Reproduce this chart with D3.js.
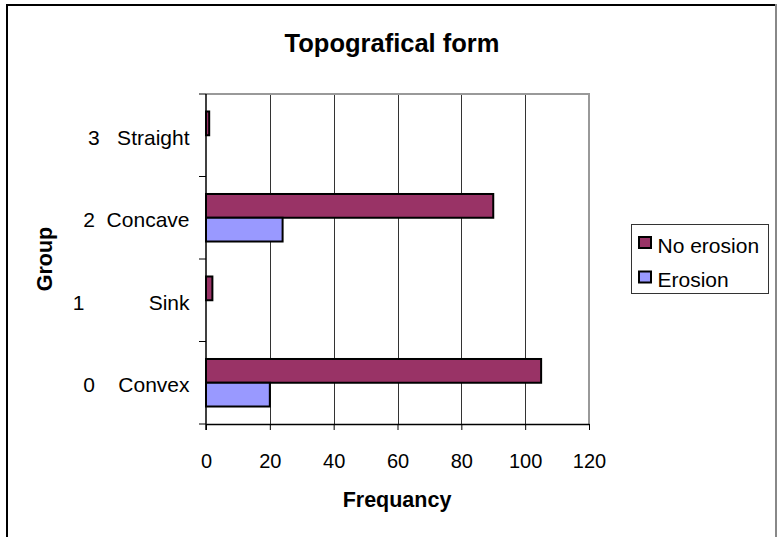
<!DOCTYPE html>
<html><head><meta charset="utf-8">
<script src="https://cdn.jsdelivr.net/npm/d3@7"></script>
<style>body{margin:0;background:#fff}svg{display:block}text{font-family:"Liberation Sans",Arial,sans-serif}</style>
</head><body>
<svg id="c" width="777" height="537"></svg>
<script>
const categories = ["0    Convex", "1           Sink", "2  Concave", "3   Straight"];
const seriesNames = ["No erosion", "Erosion"];
const noErosion = [105, 2, 90, 1];
const erosion = [20, 0, 24, 0];
const xTicks = [0, 20, 40, 60, 80, 100, 120];
const colors = ["#993366", "#9999FF"];

const svg = d3.select("#c");
const L = 206, R = 589, T = 94, B = 424;

// outer frame
svg.append("line").attr("x1",7).attr("x2",7).attr("y1",4).attr("y2",537).attr("stroke","#000").attr("stroke-width",2);
svg.append("line").attr("x1",6).attr("x2",777).attr("y1",5).attr("y2",5).attr("stroke","#000").attr("stroke-width",2);
svg.append("line").attr("x1",776).attr("x2",776).attr("y1",4).attr("y2",537).attr("stroke","#888").attr("stroke-width",2);

const x = d3.scaleLinear().domain([0,120]).range([L,R]);
const y = d3.scaleBand().domain(categories).range([B,T]).padding(0);
const inner = d3.scaleBand().domain(seriesNames).range([y.bandwidth()*0.212, y.bandwidth()*0.788]);

// gridlines
svg.append("g").selectAll("line").data(xTicks.filter(d=>d>0 && d<120)).join("line")
  .attr("x1",d=>Math.round(x(d))+0.5).attr("x2",d=>Math.round(x(d))+0.5)
  .attr("y1",T).attr("y2",B).attr("stroke","#333").attr("stroke-width",1);

// plot area top/right border
svg.append("line").attr("x1",L).attr("x2",R+1).attr("y1",T).attr("y2",T).attr("stroke","#999").attr("stroke-width",2);
svg.append("line").attr("x1",R).attr("x2",R).attr("y1",T).attr("y2",B).attr("stroke","#999").attr("stroke-width",2);

// bars
const rows = categories.map((c,i)=>({c, vals:[noErosion[i], erosion[i]]}));
const g = svg.append("g");
rows.forEach(r=>{
  r.vals.forEach((v,j)=>{
    if (v<=0) return;
    g.append("rect")
      .attr("x", x(0)).attr("y", y(r.c)+inner(seriesNames[j]))
      .attr("width", x(v)-x(0)).attr("height", inner.bandwidth())
      .attr("fill", colors[j]).attr("stroke","#000").attr("stroke-width",2);
  });
});

// x axis
const xAxis = d3.axisBottom(x).tickValues(xTicks).tickSize(6).tickPadding(24).tickSizeOuter(0);
const xg = svg.append("g").attr("transform",`translate(0,${B})`).call(xAxis);
xg.select(".domain").attr("stroke","#000").attr("stroke-width",1.5);
xg.selectAll(".tick line").attr("stroke","#000");
xg.selectAll(".tick text").attr("font-size",20).attr("fill","#000").attr("font-family","Liberation Sans, Arial, sans-serif");

// y axis: ticks at band boundaries
const yg = svg.append("g");
yg.append("line").attr("x1",L).attr("x2",L).attr("y1",T).attr("y2",B+6).attr("stroke","#000").attr("stroke-width",1.5);
const bounds = categories.map(c=>y(c)).concat([y(categories[0])+y.bandwidth()]);
yg.selectAll("line.t").data(bounds).join("line").attr("class","t")
  .attr("x1",L-7).attr("x2",L).attr("y1",d=>d).attr("y2",d=>d).attr("stroke","#000").attr("stroke-width",1);
yg.selectAll("text").data(categories).join("text")
  .attr("x",189.5).attr("y",d=>y(d)+y.bandwidth()/2+9.5)
  .attr("text-anchor","end").attr("font-size",21).attr("fill","#000")
  .style("white-space","pre").text(d=>d);

// titles
svg.append("text").attr("x",392).attr("y",52).attr("text-anchor","middle")
  .attr("font-size",25.5).attr("font-weight","bold").text("Topografical form");
svg.append("text").attr("x",397).attr("y",507).attr("text-anchor","middle")
  .attr("font-size",21.5).attr("font-weight","bold").text("Frequancy");
svg.append("text").attr("transform","translate(51.5,259) rotate(-90)").attr("text-anchor","middle")
  .attr("font-size",21.5).attr("font-weight","bold").text("Group");

// legend
const lg = svg.append("g");
lg.append("rect").attr("x",631.5).attr("y",224.5).attr("width",137).attr("height",69)
  .attr("fill","#fff").attr("stroke","#333").attr("stroke-width",1);
const legY = [242.5, 277];
seriesNames.forEach((s,i)=>{
  lg.append("rect").attr("x",639).attr("y",legY[i]-5.5).attr("width",12).attr("height",11)
    .attr("fill",colors[i]).attr("stroke","#000").attr("stroke-width",2);
  lg.append("text").attr("x",657.5).attr("y",legY[i]+10).attr("font-size",21).attr("fill","#000").text(s);
});
</script>
</body></html>
